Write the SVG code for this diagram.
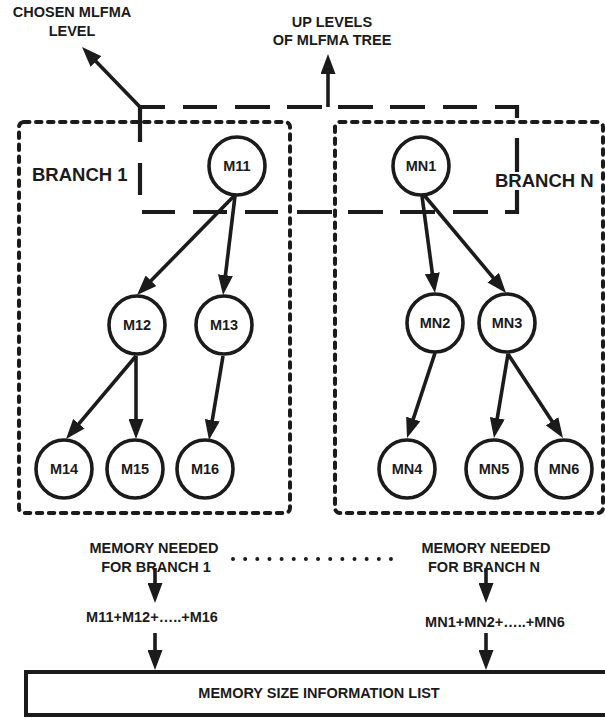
<svg xmlns="http://www.w3.org/2000/svg" width="605" height="718" viewBox="0 0 605 718">
  <style>
    text { font-family: "Liberation Sans", Arial, sans-serif; font-weight: bold; fill: #1b1b1b; }
    .lbl { font-size: 14.5px; text-anchor: middle; }
    .node ellipse { fill: #fff; stroke: #1b1b1b; stroke-width: 3.6; }
    .node text { font-size: 14.5px; text-anchor: middle; }
    .branch-title { font-size: 18.5px; }
    .dotted { fill: none; stroke: #1b1b1b; stroke-width: 4; stroke-dasharray: 5.5 6.5; stroke-linecap: round; }
    .dashed { fill: none; stroke: #1b1b1b; stroke-width: 4.2; }
    .edge { fill: none; stroke: #1b1b1b; stroke-width: 3.6; marker-end: url(#head); }
  </style>
  <defs>
    <marker id="head" markerUnits="userSpaceOnUse" markerWidth="20" markerHeight="15" refX="12" refY="7.5" orient="auto">
      <path d="M0,0 L20,7.5 L0,15 z" fill="#1b1b1b"/>
    </marker>
  </defs>

  <rect width="605" height="718" fill="#fff"/>

  <!-- top captions -->
  <text class="lbl" x="72" y="17">CHOSEN MLFMA</text>
  <text class="lbl" x="72" y="36">LEVEL</text>
  <text class="lbl" x="332" y="27">UP LEVELS</text>
  <text class="lbl" x="332" y="45">OF MLFMA TREE</text>

  <!-- branch frames -->
  <g id="branch-1">
    <rect class="dotted" x="19" y="122" width="271" height="391" rx="5"/>
    <text class="branch-title" x="32" y="181">BRANCH 1</text>
  </g>
  <g id="branch-n">
    <rect class="dotted" x="335" y="122" width="268" height="391" rx="5"/>
    <text class="branch-title" x="495" y="187">BRANCH N</text>
  </g>

  <!-- chosen level frame (long dashes) -->
  <g id="chosen-level">
    <path class="dashed" d="M165,107 H140 V142 M183,107 H217 M235,107 H270 M287,107 H322 M338,107 H373 M390,107 H425 M443,107 H477 M495,107 H517 V118 M517,138 V172 M517,190 V212 H505 M488,212 H453 M435,212 H400 M383,212 H348 M332,212 H297 M278,212 H245 M227,212 H193 M175,212 H142 M140,163 V195"/>
  </g>

  <!-- nodes -->
  <g id="M11" class="node"><ellipse cx="237" cy="166" rx="28" ry="29"/><text x="237" y="171">M11</text></g>
  <g id="M12" class="node"><ellipse cx="137" cy="325" rx="28" ry="29"/><text x="137" y="330">M12</text></g>
  <g id="M13" class="node"><ellipse cx="224" cy="325" rx="28" ry="29"/><text x="224" y="330">M13</text></g>
  <g id="M14" class="node"><ellipse cx="64" cy="469" rx="28" ry="29"/><text x="64" y="474">M14</text></g>
  <g id="M15" class="node"><ellipse cx="135" cy="469" rx="28" ry="29"/><text x="135" y="474">M15</text></g>
  <g id="M16" class="node"><ellipse cx="205" cy="469" rx="28" ry="29"/><text x="205" y="474">M16</text></g>
  <g id="MN1" class="node"><ellipse cx="421" cy="166" rx="28" ry="29"/><text x="421" y="171">MN1</text></g>
  <g id="MN2" class="node"><ellipse cx="435" cy="323" rx="28" ry="29"/><text x="435" y="328">MN2</text></g>
  <g id="MN3" class="node"><ellipse cx="507" cy="323" rx="28" ry="29"/><text x="507" y="328">MN3</text></g>
  <g id="MN4" class="node"><ellipse cx="407" cy="469" rx="28" ry="29"/><text x="407" y="474">MN4</text></g>
  <g id="MN5" class="node"><ellipse cx="494" cy="469" rx="28" ry="29"/><text x="494" y="474">MN5</text></g>
  <g id="MN6" class="node"><ellipse cx="564" cy="469" rx="28" ry="29"/><text x="564" y="474">MN6</text></g>

  <!-- connectors -->
  <g id="connectors">
    <path class="edge" d="M140,107 L87.6,52.8"/>
    <path class="edge" d="M328,107 L328,62"/>
    <path class="edge" d="M234,196 L142.6,289.3"/>
    <path class="edge" d="M235,196 L224,287.1"/>
    <path class="edge" d="M422,196 L433.9,285.1"/>
    <path class="edge" d="M424,195 L500.9,286.9"/>
    <path class="edge" d="M136,356 L71.2,432.9"/>
    <path class="edge" d="M136,356 L136,431"/>
    <path class="edge" d="M223,356 L210.3,432.1"/>
    <path class="edge" d="M435,353 L409.5,430.4"/>
    <path class="edge" d="M508,354 L495.3,430.1"/>
    <path class="edge" d="M508,354 L558.6,431.3"/>
    <path class="edge" d="M155,568 L155,595"/>
    <path class="edge" d="M155,633 L155,662"/>
    <path class="edge" d="M486,568 L486,595"/>
    <path class="edge" d="M486,633 L486,662"/>
  </g>

  <!-- memory summary -->
  <g id="memory-branch-1">
    <text class="lbl" x="154" y="553">MEMORY NEEDED</text>
    <text class="lbl" x="156" y="572">FOR BRANCH  1</text>
    <text class="lbl" x="152" y="622">M11+M12+…..+M16</text>
  </g>
  <path d="M233,559 H391" fill="none" stroke="#1b1b1b" stroke-width="4" stroke-linecap="round" stroke-dasharray="0 12.15"/>
  <g id="memory-branch-n">
    <text class="lbl" x="486" y="553">MEMORY NEEDED</text>
    <text class="lbl" x="484" y="572">FOR BRANCH N</text>
    <text class="lbl" x="495" y="627">MN1+MN2+…..+MN6</text>
  </g>

  <g id="memory-list">
    <rect x="26" y="672" width="590" height="43" fill="#fff" stroke="#1b1b1b" stroke-width="4"/>
    <text class="lbl" x="319" y="698">MEMORY SIZE INFORMATION LIST</text>
  </g>
</svg>
